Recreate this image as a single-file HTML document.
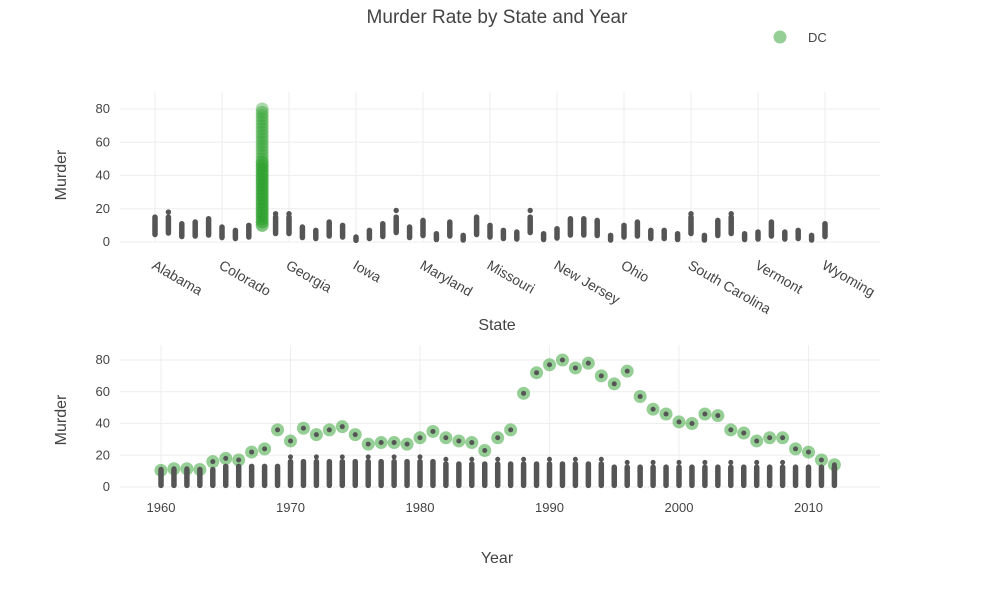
<!DOCTYPE html>
<html><head><meta charset="utf-8"><style>
body{margin:0;background:#fff;}
svg text{font-family:"Liberation Sans","DejaVu Sans",sans-serif;fill:#444;}
</style></head><body>
<svg id="s" width="990" height="586" xmlns="http://www.w3.org/2000/svg">
<text x="497" y="23" text-anchor="middle" font-size="19">Murder Rate by State and Year</text>
<circle cx="780" cy="37" r="6.5" fill="#2ca02c" opacity="0.5"/>
<text x="808" y="42" font-size="13">DC</text>
<text x="497" y="330" text-anchor="middle" font-size="16">State</text>
<text x="497" y="563" text-anchor="middle" font-size="16">Year</text>
<text transform="translate(66,175) rotate(-90)" text-anchor="middle" font-size="16">Murder</text>
<text transform="translate(66,420) rotate(-90)" text-anchor="middle" font-size="16">Murder</text>
<g id="g"></g>
</svg>
<script>
var g=document.getElementById('g'),h='';
function L(x1,y1,x2,y2,c,w,o){h+='<line x1="'+x1+'" y1="'+y1+'" x2="'+x2+'" y2="'+y2+'" stroke="'+c+'" stroke-width="'+w+'"'+(o?' stroke-linecap="round" opacity="'+o+'"':'')+'/>';}
function C(x,y,r,c,o){h+='<circle cx="'+x+'" cy="'+y+'" r="'+r+'" fill="'+c+'" opacity="'+o+'"/>';}
function T(x,y,t,a){h+='<text x="'+x+'" y="'+y+'" font-size="13" text-anchor="'+(a||'end')+'">'+t+'</text>';}
var ty=function(v){return 242-v*133/80;};
for(var v=0;v<=80;v+=20){L(120,ty(v),880,ty(v),'#eee',1);T(110,ty(v)+4,v);}
var st=['Alabama','Colorado','Georgia','Iowa','Maryland','Missouri','New Jersey','Ohio','South Carolina','Vermont','Wyoming'];
for(var i=0;i<11;i++){var x=155+i*67;L(x,92,x,242,'#eee',1);h+='<text transform="translate('+(x-4)+',268) rotate(30)" font-size="14">'+st[i]+'</text>';}
var hi=[15,18,11,12,14,9,7,10,0,17,17,9,7,12,10,3,7,11,19,9,13,5,12,4,15,10,7,6,19,5,8,14,14,13,4,10,12,7,7,5,17,4,13,17,5,6,12,6,7,4,11,10];
for(var i=0;i<51;i++){var x=155+i*13.4;if(i==8){for(var v=10;v<=80;v+=2)C(x,ty(v),6.5,'#2ca02c',v<50?0.6:0.4);continue;}
var lo=Math.max(1,hi[i]*0.3);L(x,ty(lo),x,ty(Math.min(hi[i],15)),'#555',5.5,1);if(hi[i]>15)C(x,ty(hi[i]),2.7,'#555',1);}
var by=function(v){return 487-v*127/80;};var bx=function(y){return 161+(y-1960)*12.95;};
for(var v=0;v<=80;v+=20){L(120,by(v),880,by(v),'#eee',1);T(110,by(v)+4,v);}
for(var y=1960;y<=2010;y+=10){L(bx(y),345,bx(y),487,'#eee',1);T(bx(y),512,y,'middle');}
var dc=[10.5,11.5,11.5,11,16,18,17,22,24,36,29,37,33,36,38,33,27,28,28,27,31,35,31,29,28,23,31,36,59,72,77,80,75,78,70,65,73,57,49,46,41,40,46,45,36,34,29,31,31,24,22,17,14];
for(var k=0;k<53;k++){var yr=1960+k,x=bx(yr);C(x,by(dc[k]),6.5,'#2ca02c',0.5);
var m=yr<1965?11:yr<1970?13:yr<1982?16:yr<1995?14.5:12.5;
L(x,by(1),x,by(m),'#555',5.5,1);if(yr>1969&&yr<2010&&k%2==0)C(x,by(m+3),2.5,'#555',1);C(x,by(dc[k]),2.5,'#555',1);}
g.innerHTML=h;
</script>
</body></html>
